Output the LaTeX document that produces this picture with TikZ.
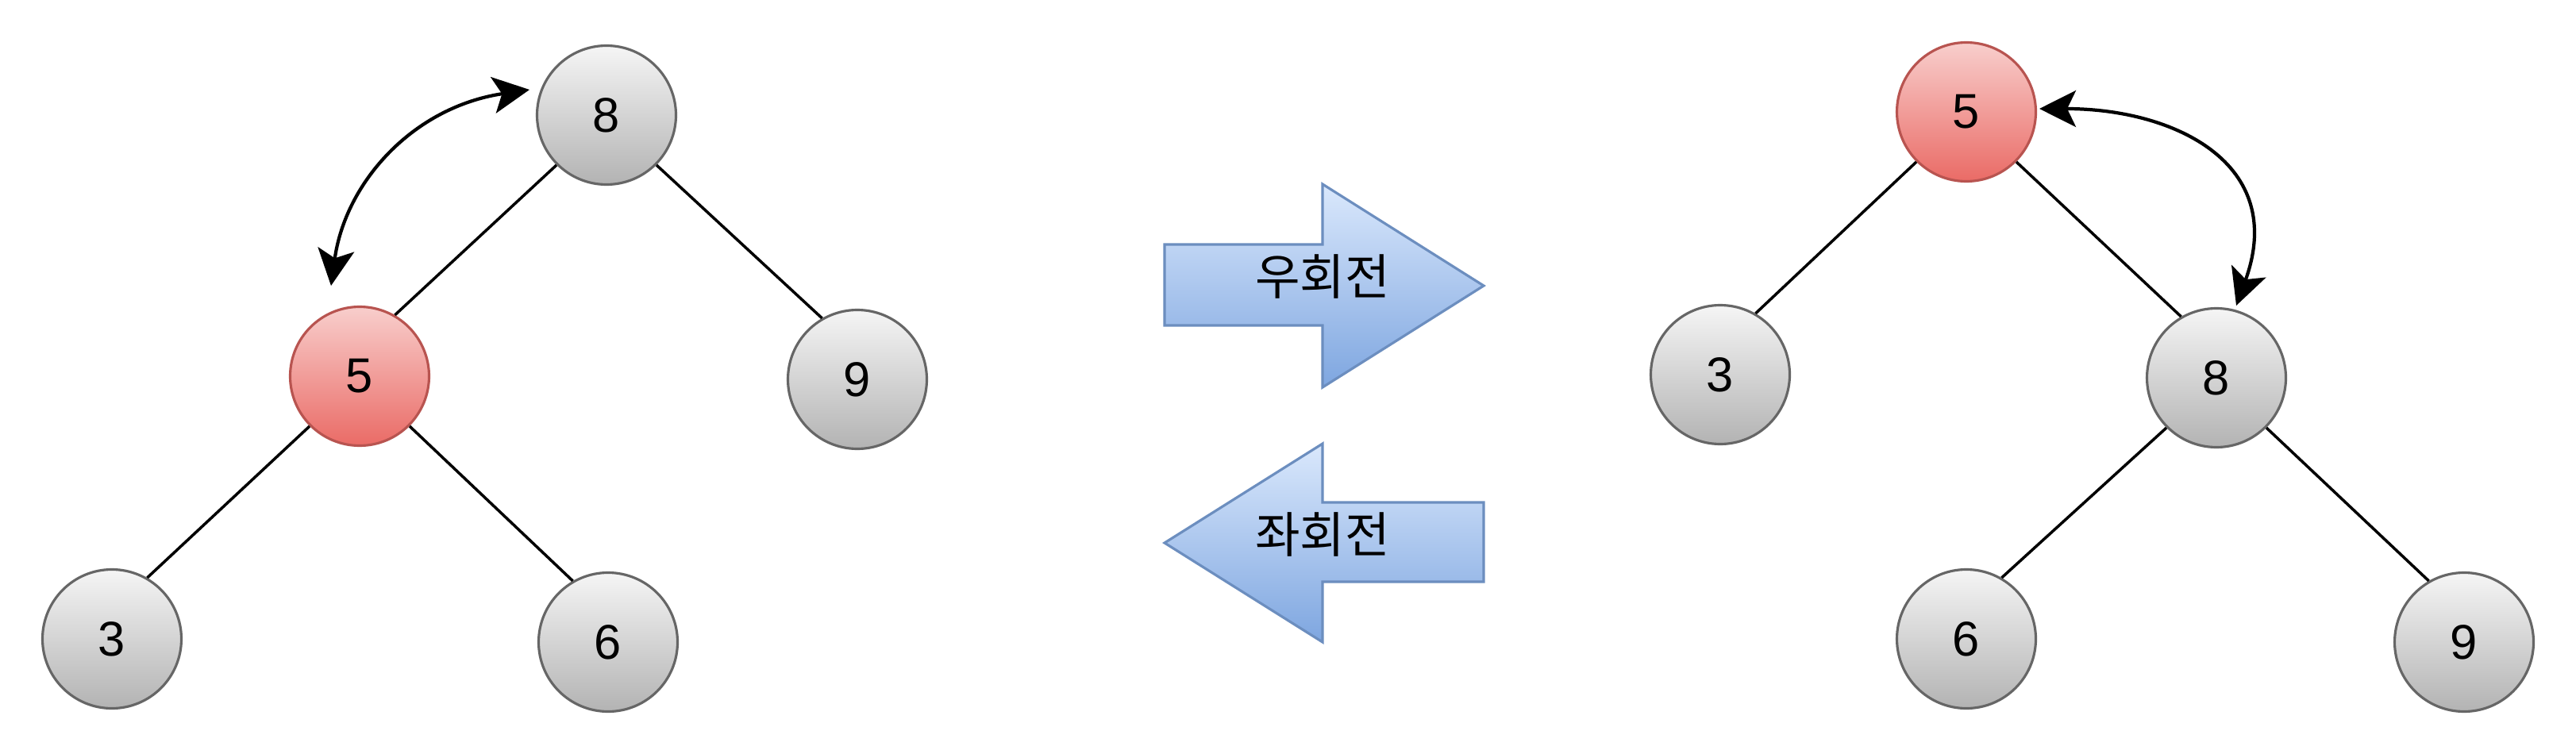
\documentclass[tikz,border=0pt]{standalone}
\usepackage{fontspec}
\setmainfont{Liberation Sans}
\newfontfamily\kr{Noto Sans CJK KR}
\usetikzlibrary{arrows.meta}
\definecolor{keytop}{RGB}{245,245,245}
\definecolor{keybot}{RGB}{179,179,179}
\definecolor{keyline}{RGB}{102,102,102}
\definecolor{hottop}{RGB}{248,206,204}
\definecolor{hotbot}{RGB}{234,107,102}
\definecolor{hotline}{RGB}{184,84,80}
\definecolor{rottop}{RGB}{218,232,252}
\definecolor{rotbot}{RGB}{126,166,224}
\definecolor{rotline}{RGB}{108,142,191}

\begin{document}
\begin{tikzpicture}[
  keynode/.style={circle, minimum size=1.75cm, inner sep=0pt, line width=0.9pt,
    draw=keyline, top color=keytop, bottom color=keybot, shading=axis,
    font=\fontsize{17.5}{21}\selectfont},
  hotnode/.style={keynode, draw=hotline, top color=hottop, bottom color=hotbot},
  treeedge/.style={line width=1pt},
  swaparrow/.style={line width=1.2pt,
    {Stealth[length=4.6mm,width=4.6mm,inset=1.1mm]}-{Stealth[length=4.6mm,width=4.6mm,inset=1.1mm]}},
  rotarrow/.style={line width=0.9pt, draw=rotline, top color=rottop, bottom color=rotbot, shading=axis}
]
\useasboundingbox (0,0) rectangle (32.45,-9.5);
\def\sl{14.67}  % shaft end
\def\hb{16.66}  % head base
\def\tp{18.69}  % tip

%left tree (before)
\node[keynode] (L8) at (7.64,-1.45) {8};
\node[hotnode] (L5) at (4.53,-4.74) {5};
\node[keynode] (L9) at (10.80,-4.78) {9};
\node[keynode] (L3) at (1.41,-8.05) {3};
\node[keynode] (L6) at (7.66,-8.09) {6};
\foreach \a/\b in {L8/L5, L5/L3}
  \draw[treeedge] (\a.225) -- (\b.60);
\foreach \a/\b in {L8/L9, L5/L6}
  \draw[treeedge] (\a.315) -- (\b.120);

\coordinate (lswapA) at (4.17,-3.60);
\coordinate (lswapB) at (6.67,-1.13);
\draw[swaparrow] (lswapA) .. controls +(0.18,1.3) and +(-1.47,-0.22) .. (lswapB);

%right tree (after)
\node[hotnode] (R5) at (24.77,-1.41) {5};
\node[keynode] (R3) at (21.67,-4.72) {3};
\node[keynode] (R8) at (27.92,-4.76) {8};
\node[keynode] (R6) at (24.77,-8.05) {6};
\node[keynode] (R9) at (31.04,-8.09) {9};
\foreach \a/\b in {R5/R3, R8/R6}
  \draw[treeedge] (\a.225) -- (\b.60);
\foreach \a/\b in {R5/R8, R8/R9}
  \draw[treeedge] (\a.315) -- (\b.120);

\coordinate (rswapA) at (25.69,-1.37);
\coordinate (rswapB) at (28.17,-3.85);
\draw[swaparrow] (rswapA) .. controls +(1.7,0) and +(0.65,1.79) .. (rswapB);

%rotation arrows
\filldraw[rotarrow] (\sl,-3.08) -- (\hb,-3.08) -- (\hb,-2.32) -- (\tp,-3.60)
  -- (\hb,-4.88) -- (\hb,-4.10) -- (\sl,-4.10) -- cycle;
\node[font=\kr\fontsize{17.5}{21}\selectfont] (rright) at (\hb,-3.48) {우회전};

\filldraw[rotarrow] (\tp,-6.33) -- (\hb,-6.33) -- (\hb,-5.59) -- (\sl,-6.84)
  -- (\hb,-8.09) -- (\hb,-7.33) -- (\tp,-7.33) -- cycle;
\node[font=\kr\fontsize{17.5}{21}\selectfont] (rleft) at (\hb,-6.73) {좌회전};

\end{tikzpicture}
\end{document}
